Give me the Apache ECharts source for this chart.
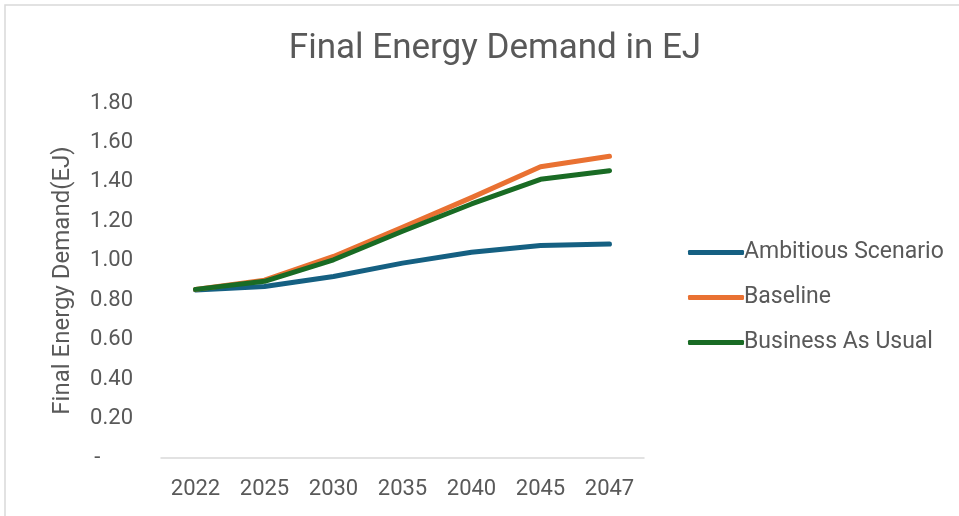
<!DOCTYPE html>
<html>
<head>
<meta charset="utf-8">
<script src="https://cdn.jsdelivr.net/npm/echarts@6/dist/echarts.min.js"></script>
<style>
  html, body { margin: 0; padding: 0; background: #fff; }
  #chart { width: 959px; height: 516px; }
</style>
</head>
<body>
<div id="chart"></div>
<script>
const years = ["2022", "2025", "2030", "2035", "2040", "2045", "2047"];
const ambitious = [0.852, 0.870, 0.920, 0.988, 1.043, 1.077, 1.085];
const baseline = [0.855, 0.902, 1.022, 1.170, 1.320, 1.477, 1.530];
const businessAsUsual = [0.855, 0.896, 1.005, 1.150, 1.288, 1.413, 1.457];

const myChart = echarts.init(document.getElementById("chart"));
const textColor = "#595959";
const font = "Roboto, 'Liberation Sans', sans-serif";

function lineSeries(name, data, color) {
  return {
    name: name,
    type: "line",
    data: data,
    symbol: "none",
    lineStyle: { width: 5, color: color, cap: "round", join: "round" },
    itemStyle: { color: color },
  };
}

const option = {
  animation: false,
  textStyle: { fontFamily: font },
  title: {
    text: "Final Energy Demand in EJ",
    left: 490,
    top: 27,
    textAlign: "center",
    textStyle: { fontSize: 35, fontWeight: "normal", color: textColor, fontFamily: font },
  },
  graphic: [
    {
      type: "rect",
      shape: { x: 5, y: 5, width: 970, height: 530 },
      style: { fill: "none", stroke: "#d9d9d9", lineWidth: 1.5 },
    },
  ],
  legend: {
    orient: "vertical",
    left: 683,
    top: 236,
    itemGap: 22,
    itemWidth: 56,
    itemHeight: 5,
    icon: "roundRect",
    data: ["Ambitious Scenario", "Baseline", "Business As Usual"],
    textStyle: { fontSize: 23, color: textColor, fontFamily: font, padding: [0, 0, 0, -5] },
  },
  grid: {
    left: 161,
    right: 315,
    top: 103,
    bottom: 58,
  },
  xAxis: {
    type: "category",
    data: years,
    boundaryGap: true,
    axisLine: { show: true, lineStyle: { color: "#d9d9d9", width: 1.5 } },
    axisTick: { show: false },
    axisLabel: { fontSize: 22, color: textColor, margin: 20, fontFamily: font },
  },
  yAxis: {
    type: "value",
    min: 0,
    max: 1.8,
    interval: 0.2,
    name: "Final Energy Demand(EJ)",
    nameLocation: "middle",
    nameGap: 86,
    nameTextStyle: { fontSize: 24, color: textColor, fontFamily: font },
    axisLine: { show: false },
    axisTick: { show: false },
    splitLine: { show: false },
    axisLabel: {
      fontSize: 22,
      color: textColor,
      margin: 28,
      fontFamily: font,
      formatter: function (v) {
        return v === 0 ? "-      " : v.toFixed(2);
      },
    },
  },
  series: [
    lineSeries("Ambitious Scenario", ambitious, "#156082"),
    lineSeries("Baseline", baseline, "#E97132"),
    lineSeries("Business As Usual", businessAsUsual, "#196B24"),
  ],
};

myChart.setOption(option);
</script>
</body>
</html>
